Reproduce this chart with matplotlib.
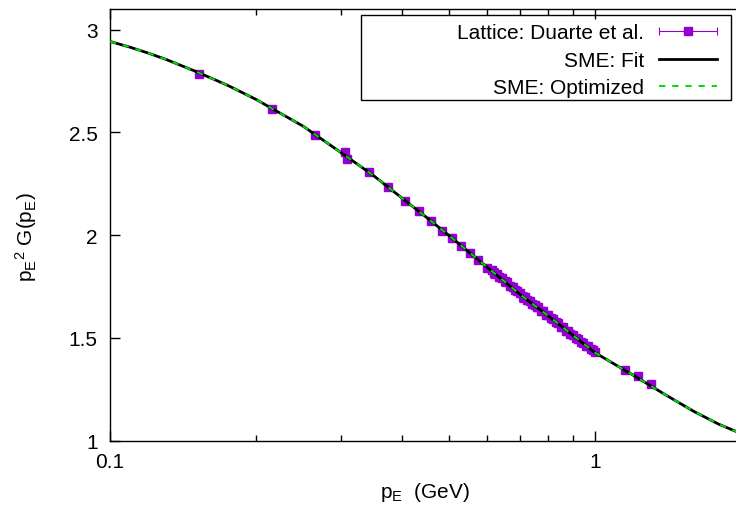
import numpy as np
import matplotlib
matplotlib.use("Agg")
import matplotlib.pyplot as plt
from matplotlib.container import ErrorbarContainer
from matplotlib.legend_handler import HandlerErrorbar
from matplotlib.patches import Rectangle

plt.rcParams['font.family'] = ['Liberation Sans', 'DejaVu Sans']
plt.rcParams['mathtext.fontset'] = 'custom'
plt.rcParams['mathtext.rm'] = 'Liberation Sans'
plt.rcParams['mathtext.it'] = 'Liberation Sans'
plt.rcParams['lines.scale_dashes'] = False

W, H = 736, 506

# Lattice data
lattice_x = [0.1528, 0.2161, 0.2647, 0.3052, 0.3074, 0.3424, 0.3749, 0.4057,
             0.4343, 0.4590, 0.4836, 0.5079, 0.5300, 0.5533, 0.5744, 0.5978,
             0.612, 0.620, 0.627, 0.635, 0.642, 0.652, 0.660, 0.668, 0.676,
             0.684, 0.692, 0.700, 0.709, 0.717, 0.725, 0.734, 0.742, 0.752,
             0.758, 0.764, 0.775, 0.782, 0.792, 0.801, 0.810, 0.820, 0.830,
             0.840, 0.850, 0.860, 0.870, 0.881, 0.890, 0.902, 0.912, 0.924,
             0.935, 0.946, 0.957, 0.969, 0.980, 0.992, 1.000,
             1.153, 1.228, 1.305]
lattice_y = [2.786, 2.613, 2.486, 2.402, 2.368, 2.307, 2.235, 2.164,
             2.115, 2.071, 2.020, 1.985, 1.949, 1.912, 1.879, 1.842,
             1.830, 1.815, 1.812, 1.795, 1.793, 1.775, 1.770, 1.752, 1.748,
             1.735, 1.728, 1.718, 1.700, 1.698, 1.685, 1.680, 1.665, 1.660,
             1.648, 1.650, 1.632, 1.630, 1.612, 1.610, 1.595, 1.592, 1.575,
             1.572, 1.555, 1.553, 1.535, 1.533, 1.518, 1.515, 1.498, 1.495,
             1.480, 1.477, 1.462, 1.460, 1.447, 1.442, 1.432,
             1.342, 1.317, 1.277]
lattice_err = [0.008, 0.008, 0.010, 0.010, 0.012, 0.010, 0.012, 0.012,
               0.015, 0.015, 0.015, 0.018, 0.015, 0.020, 0.015, 0.018,
               0.020, 0.025, 0.015, 0.020, 0.018, 0.022, 0.015, 0.020, 0.018,
               0.015, 0.020, 0.018, 0.025, 0.015, 0.020, 0.018, 0.015, 0.020,
               0.018, 0.015, 0.020, 0.018, 0.015, 0.020, 0.018, 0.015, 0.018,
               0.015, 0.018, 0.015, 0.015, 0.012, 0.015, 0.012, 0.012, 0.012,
               0.012, 0.010, 0.012, 0.010, 0.010, 0.010, 0.010,
               0.010, 0.010, 0.010]

# SME curves
curve_x = [0.10, 0.11, 0.12, 0.13, 0.15, 0.175, 0.20, 0.25, 0.30, 0.35, 0.40,
           0.45, 0.50, 0.60, 0.70, 0.80, 0.90, 1.00, 1.20, 1.40, 1.60, 1.80, 2.00]
fit_y = [2.942, 2.914, 2.885, 2.856, 2.797, 2.728, 2.660, 2.530, 2.400, 2.288,
         2.180, 2.085, 1.998, 1.843, 1.712, 1.608, 1.513, 1.428, 1.318, 1.222,
         1.142, 1.080, 1.035]
opt_y = [2.942, 2.914, 2.885, 2.856, 2.797, 2.728, 2.660, 2.530, 2.400, 2.288,
         2.180, 2.085, 1.998, 1.843, 1.712, 1.608, 1.513, 1.428, 1.318, 1.222,
         1.142, 1.080, 1.035]

fig = plt.figure(figsize=(W / 100, H / 100), dpi=100)
ax = fig.add_axes([0.1495, 0.1271, 0.8573, 0.8532])

eb = ax.errorbar(lattice_x, lattice_y, yerr=lattice_err, fmt='s', color='#9400d3',
                 ms=5.5, elinewidth=0.8, capsize=3, capthick=0.8,
                 label='Lattice: Duarte et al.', zorder=2)
# show the legend sample as a horizontal bar, like gnuplot does
eb.has_xerr = True
eb.has_yerr = False

l_fit, = ax.plot(curve_x, fit_y, color='black', lw=2.0, label='SME: Fit', zorder=3)
l_opt, = ax.plot(curve_x, opt_y, color='#00dd00', lw=1.4, dashes=(4.5, 5),
                 label='SME: Optimized', zorder=4)

ax.set_xscale('log')
ax.set_xlim(0.1, 2)
ax.set_ylim(1, 3.1)
ax.set_yticks([1, 1.5, 2, 2.5, 3])
ax.set_yticklabels(['1', '1.5', '2', '2.5', '3'])
ax.set_xticks([0.1, 1])
ax.set_xticklabels(['0.1', '1'])
ax.set_xticks([0.2, 0.3, 0.4, 0.5, 0.6, 0.7, 0.8, 0.9, 2], minor=True)
ax.xaxis.set_minor_formatter(matplotlib.ticker.NullFormatter())
ax.yaxis.set_minor_locator(matplotlib.ticker.NullLocator())

ax.tick_params(axis='both', which='major', direction='in', length=7, width=1,
               labelsize=15, top=True)
ax.tick_params(axis='x', which='minor', direction='in', length=4, width=1, top=True)
ax.tick_params(axis='x', which='major', pad=8)
ax.tick_params(axis='y', which='major', pad=9)
for s in ax.spines.values():
    s.set_linewidth(1.0)

fig.text(26 / W, 1 - 237 / H, r'$\mathregular{p_E{}^2\ G(p_E)}$', rotation=90,
         ha='center', va='center', fontsize=15)
fig.text(425 / W, 1 - 498 / H, r'$\mathregular{p_E\ \ (GeV)}$', ha='center',
         va='baseline', fontsize=15)

# key: entries without frame, box drawn separately (gnuplot key is wider)
leg = ax.legend([eb, l_fit, l_opt],
                ['Lattice: Duarte et al.', 'SME: Fit', 'SME: Optimized'],
                handler_map={ErrorbarContainer: HandlerErrorbar(xerr_size=1.4)},
                loc='upper right', bbox_to_anchor=(723.5 / W, 1 - 18.0 / H),
                bbox_transform=fig.transFigure, borderaxespad=0, markerfirst=False,
                fontsize=15, handlelength=2.8, handletextpad=0.7,
                labelspacing=0.41, borderpad=0.3, frameon=False, alignment='right')
for t in leg.get_texts():
    t.set_ha('right')

fig.add_artist(Rectangle((361 / W, 1 - 101 / H), (731 - 361) / W, (101 - 16.3) / H,
                         transform=fig.transFigure, facecolor='none',
                         edgecolor='black', lw=1.0))

fig.savefig('out.png', dpi=100)
